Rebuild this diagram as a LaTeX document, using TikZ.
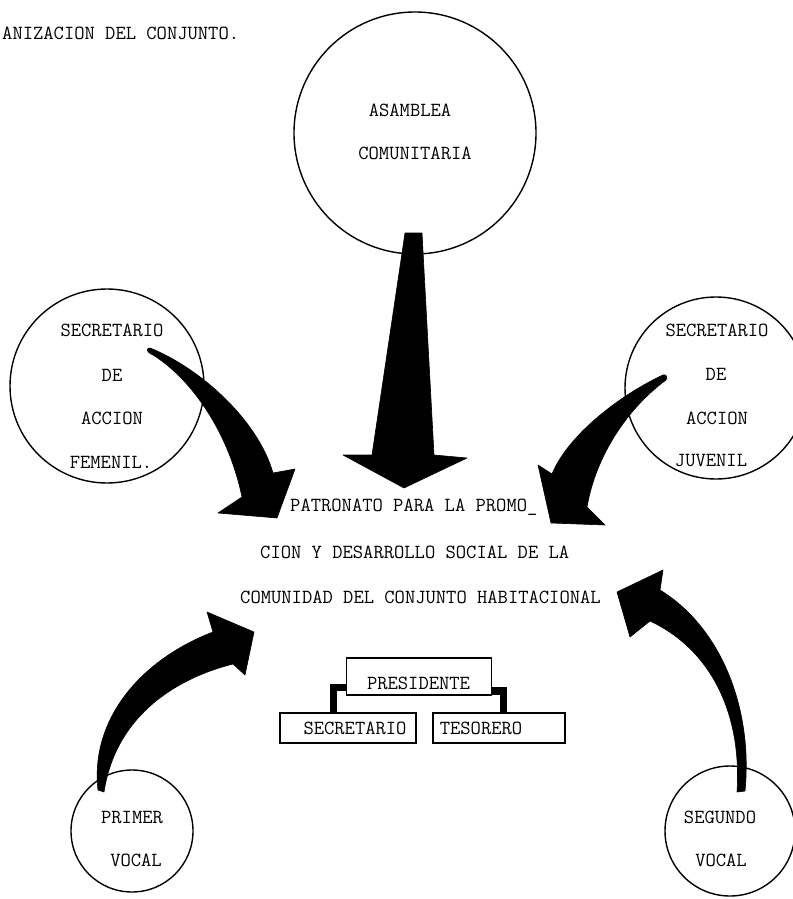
\documentclass[tikz,border=0pt]{standalone}
\usepackage{fontspec}
\newcommand\tw{\ttfamily\fontsize{20}{24}\selectfont\addfontfeature{FakeBold=1.6}}
\begin{document}
\begin{tikzpicture}[x=1pt,y=-1pt,
  circ/.style={circle,draw,line width=1.4pt,inner sep=0pt},
  txt/.style={font=\tw,inner sep=0pt},
  boxs/.style={draw,line width=1.3pt,inner sep=0pt},
  conn/.style={line width=7.5pt,line join=miter},
  blk/.style={fill=black,draw=black,line width=0.6pt,line join=round}]
\useasboundingbox (0,0) rectangle (792,899);

% title
\node[txt,anchor=west] (title) at (2,33) {ANIZACION DEL CONJUNTO.};

% circles
\node[circ,minimum size=242pt] (asm) at (415,133) {};
\node[circ,minimum size=194pt] (fem) at (107,386) {};
\node[circ,minimum size=182pt] (juv) at (716,388) {};
\node[circ,minimum size=122pt] (pv) at (132,831) {};
\node[circ,minimum size=130pt] (sv) at (730,831) {};

% circle texts
\node[txt] (asm1) at (410,110) {ASAMBLEA};
\node[txt] (asm2) at (415,153) {COMUNITARIA};
\node[txt] (fem1) at (112,330) {SECRETARIO};
\node[txt] (fem2) at (112,375) {DE};
\node[txt] (fem3) at (112,418) {ACCION};
\node[txt] (fem4) at (111,462) {FEMENIL.};
\node[txt] (juv1) at (717,330) {SECRETARIO};
\node[txt] (juv2) at (716,374) {DE};
\node[txt] (juv3) at (717,418) {ACCION};
\node[txt] (juv4) at (711,461) {JUVENIL};
\node[txt] (pv1) at (132,817) {PRIMER};
\node[txt] (pv2) at (136,860) {VOCAL};
\node[txt] (sv1) at (720,817) {SEGUNDO};
\node[txt] (sv2) at (721,860) {VOCAL};

% central text
\node[txt,anchor=west] (pat1) at (290,507) {PATRONATO PARA LA PROMO\_};
\node[txt,anchor=west] (pat2) at (260,552) {CION Y DESARROLLO SOCIAL DE LA};
\node[txt,anchor=west] (pat3) at (240,597) {COMUNIDAD DEL CONJUNTO HABITACIONAL};

% big arrows
\fill[blk] (405,233) -- (422,233) -- (434,455) -- (467,458) -- (404,488) -- (343,455) -- (372,455) -- cycle;
\fill[blk] (150,348) .. controls (200,368) and (258,420) .. (273,473) -- (295,469) -- (277,518) -- (218,513) -- (242,497)
  .. controls (228,430) and (190,378) .. (153,355) .. controls (146,352) and (146,348) .. (150,348) -- cycle;
\fill[blk] (663,375) .. controls (620,395) and (568,435) .. (552,474) -- (538,465) -- (551,523) -- (605,525) -- (587,507)
  .. controls (596,455) and (628,408) .. (666,380) .. controls (668,377) and (666,374) .. (663,375) -- cycle;
\fill[blk] (98,790) .. controls (90,720) and (140,660) .. (213,632) -- (207,612) -- (254,632) -- (245,675) -- (233,664)
  .. controls (170,680) and (115,720) .. (104,792) -- cycle;
\fill[blk] (745,791) .. controls (753,710) and (722,628) .. (660,590) -- (663,570) -- (617,592) -- (630,637) -- (650,621)
  .. controls (712,650) and (742,715) .. (737,792) -- cycle;

% boxes
\node[boxs,minimum width=145pt,minimum height=37pt] (pres) at (419,676.5) {};
\node[txt] (prest) at (418.5,683) {PRESIDENTE};
\node[boxs,minimum width=136pt,minimum height=30pt] (sec) at (348,728) {};
\node[txt] (sect) at (355,728) {SECRETARIO};
\node[boxs,minimum width=132pt,minimum height=30pt] (tes) at (499,728) {};
\node[txt] (test) at (481,728) {TESORERO};

% connectors
\draw[conn] (pres.west |- 0,687.5) -| (333.5,0 |- sec.north);
\draw[conn] (pres.east |- 0,691) -| (503.5,0 |- tes.north);
\end{tikzpicture}
\end{document}
